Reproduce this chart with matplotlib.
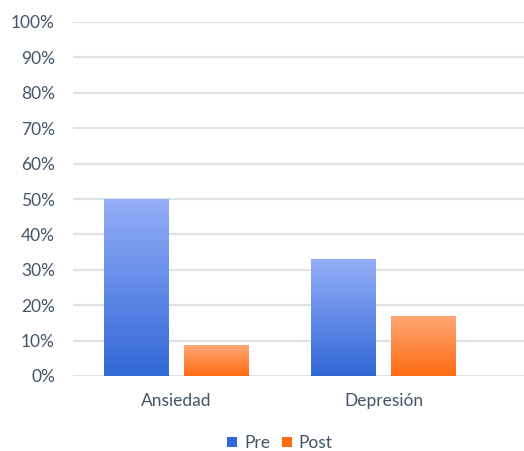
import numpy as np
import matplotlib.pyplot as plt
from matplotlib.patches import Patch
from matplotlib.colors import LinearSegmentedColormap

categories = ['Ansiedad', 'Depresión']
series = ['Pre', 'Post']
pre = [0.50, 0.33]
post = [0.087, 0.17]
yticks = [0.0, 0.1, 0.2, 0.3, 0.4, 0.5, 0.6, 0.7, 0.8, 0.9, 1.0]

# gradient colours (top, bottom) for each series
grad = {'Pre': ('#94aef7', '#3167d6'), 'Post': ('#ffa775', '#ff6c12')}
text_col = '#44546a'

plt.rcParams['font.family'] = ['Lato', 'DejaVu Sans']

fig = plt.figure(figsize=(5.24, 4.51), dpi=100)
ax = fig.add_axes([73 / 524, 1 - 376 / 451, 1 - 73 / 524, (376 - 22) / 451])

width = 0.314
offset = 0.191
x = np.arange(len(categories))


def gradient_bars(xs, heights, name):
    top, bottom = grad[name]
    cmap = LinearSegmentedColormap.from_list(name, [bottom, top])
    bars = ax.bar(xs, heights, width, color='none', edgecolor='none', zorder=3)
    for b in bars:
        x0, y0 = b.get_x(), b.get_y()
        w, h = b.get_width(), b.get_height()
        img = np.linspace(0, 1, 256).reshape(-1, 1)
        im = ax.imshow(img, cmap=cmap, origin='lower', aspect='auto',
                       extent=[x0, x0 + w, y0, y0 + h], zorder=3)
        im.set_clip_path(b)
    return bars


gradient_bars(x - offset, pre, 'Pre')
gradient_bars(x + offset, post, 'Post')

ax.set_xlim(-0.5, 1.679)
ax.set_ylim(0, 1)
ax.set_yticks(yticks)
ax.set_yticklabels(['{:.0f}%'.format(v * 100) for v in yticks])
ax.set_xticks(x)
ax.set_xticklabels(categories)
ax.tick_params(axis='y', length=0, pad=13, labelsize=12.5, labelcolor=text_col)
ax.tick_params(axis='x', length=0, pad=12, labelsize=12.5, labelcolor=text_col)
ax.grid(axis='y', color='#dde1e8', linewidth=1.6, zorder=0)
ax.set_axisbelow(True)
for s in ax.spines.values():
    s.set_visible(False)

handles = [Patch(facecolor=grad[n][1], label=n) for n in series]
leg = fig.legend(handles=handles, loc='center', bbox_to_anchor=(280 / 524, 1 - 443 / 451),
                 ncol=2, frameon=False, fontsize=12.5, handlelength=0.55, handleheight=0.55,
                 handletextpad=0.4, columnspacing=0.7)
for t in leg.get_texts():
    t.set_color(text_col)

fig.savefig('out.png', dpi=100)
